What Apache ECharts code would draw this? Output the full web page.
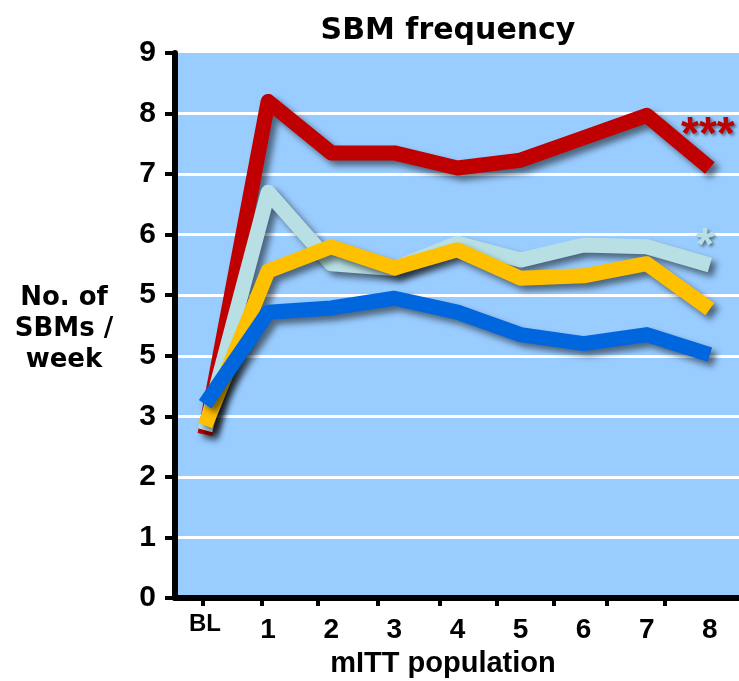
<!DOCTYPE html>
<html>
<head>
<meta charset="utf-8">
<script src="https://cdn.jsdelivr.net/npm/echarts@6/dist/echarts.min.js"></script>
<style>
  html, body { margin: 0; padding: 0; background: #ffffff; }
  #chart { width: 739px; height: 681px; }
</style>
</head>
<body>
<div id="chart"></div>
<script>
// Time points along the x axis (BL = baseline, then weeks 1-8)
const weeks = [0, 1, 2, 3, 4, 5, 6, 7, 8];
const weekLabels = ['BL', '1', '2', '3', '4', '5', '6', '7', '8'];
// Positions of the small tick marks under the x axis
const xTickPositions = [-0.03, 0.9, 1.79, 2.74, 3.72, 4.63, 5.52, 6.37, 7.29];

// Y-axis tick labels as printed
const yTickLabels = ['0', '1', '2', '3', '5', '5', '6', '7', '8', '9'];

// Weekly SBM counts per treatment arm
const redArm       = [2.7, 8.2, 7.35, 7.35, 7.1, 7.23, 7.6, 7.97, 7.1];
const lightBlueArm = [2.77, 6.7, 5.52, 5.44, 5.86, 5.58, 5.83, 5.8, 5.5];
const yellowArm    = [2.85, 5.4, 5.8, 5.45, 5.75, 5.28, 5.32, 5.52, 4.77];
const blueArm      = [3.2, 4.72, 4.79, 4.95, 4.72, 4.35, 4.2, 4.35, 4.02];

// Significance markers shown next to the final point
const redMarker = '***';
const lightBlueMarker = '*';

const SANS = '"Liberation Sans", Arial, sans-serif';
const WIDE = '"DejaVu Sans", sans-serif';

function pairs(values) {
  return weeks.map((w, i) => [w, values[i]]);
}

function armSeries(name, values, color, marker, markerOffset) {
  const s = {
    name: name,
    type: 'line',
    data: pairs(values),
    symbol: 'none',
    silent: true,
    animation: false,
    lineStyle: {
      color: color,
      width: 15,
      join: 'round',
      cap: 'butt',
      shadowColor: 'rgba(0,0,0,0.5)',
      shadowBlur: 6,
      shadowOffsetX: 5,
      shadowOffsetY: 5
    }
  };
  if (marker) {
    s.endLabel = {
      show: true,
      formatter: marker,
      distance: 0,
      offset: markerOffset,
      align: 'center',
      verticalAlign: 'middle',
      color: color,
      fontFamily: SANS,
      fontWeight: 'bold',
      fontSize: 46,
      textShadowColor: 'rgba(0,0,0,0.45)',
      textShadowBlur: 3,
      textShadowOffsetX: 2,
      textShadowOffsetY: 2
    };
  }
  return s;
}

const chart = echarts.init(document.getElementById('chart'), null, { renderer: 'canvas' });

chart.setOption({
  animation: false,
  backgroundColor: '#ffffff',
  title: [
    {
      text: 'SBM frequency',
      left: 443,
      textAlign: 'center',
      top: 11,
      textStyle: { fontFamily: WIDE, fontWeight: 'bold', fontSize: 30, color: '#000' }
    },
    {
      // y-axis caption, set horizontally to the left of the tick labels
      text: 'No. of\nSBMs /\nweek',
      left: 64,
      textAlign: 'center',
      top: 283,
      padding: 0,
      textStyle: { fontFamily: WIDE, fontWeight: 'bold', fontSize: 26, lineHeight: 31, color: '#000', align: 'center' }
    }
  ],
  grid: {
    left: 175,
    right: 0,
    top: 53,
    bottom: 83,
    outerBoundsMode: 'none',
    containLabel: false,
    show: true,
    backgroundColor: '#99ccff',
    borderWidth: 0
  },
  xAxis: {
    type: 'value',
    min: -0.476,
    max: 8.462,
    name: 'mITT population',
    nameLocation: 'middle',
    nameGap: 49,
    nameTextStyle: { fontFamily: SANS, fontWeight: 'bold', fontSize: 29, color: '#000', padding: [0, 28, 0, 0] },
    axisLine: { onZero: false, lineStyle: { color: '#000', width: 6 } },
    axisTick: {
      show: true,
      length: 8,
      customValues: xTickPositions,
      lineStyle: { color: '#000', width: 4 }
    },
    axisLabel: {
      customValues: weeks,
      formatter: v => {
        const t = weekLabels[Math.round(v)];
        return Math.round(v) === 0 ? '{bl|' + t + '}' : '{n|' + t + '}';
      },
      margin: 14,
      rich: {
        bl: { fontFamily: SANS, fontWeight: 'bold', fontSize: 24, lineHeight: 24, color: '#000' },
        n: { fontFamily: SANS, fontWeight: 'bold', fontSize: 28, lineHeight: 28, color: '#000', padding: [9, 0, 0, 0] }
      }
    },
    splitLine: { show: false }
  },
  yAxis: {
    type: 'value',
    min: 0,
    max: 9,
    interval: 1,
    axisLine: { show: true, onZero: false, lineStyle: { color: '#000', width: 6 } },
    axisTick: { show: true, length: 10, lineStyle: { color: '#000', width: 4 } },
    axisLabel: {
      formatter: v => yTickLabels[Math.round(v)],
      margin: 19,
      fontFamily: SANS,
      fontWeight: 'bold',
      fontSize: 30,
      color: '#000'
    },
    splitLine: {
      show: true,
      showMaxLine: false,
      lineStyle: { color: '#ffffff', width: 3 }
    }
  },
  series: [
    armSeries('red', redArm, '#c00000', redMarker, [-2, -32]),
    armSeries('lightblue', lightBlueArm, '#b8dfe3', lightBlueMarker, [-5, -18]),
    armSeries('yellow', yellowArm, '#ffc000'),
    armSeries('blue', blueArm, '#0066dd')
  ]
});
</script>
</body>
</html>
